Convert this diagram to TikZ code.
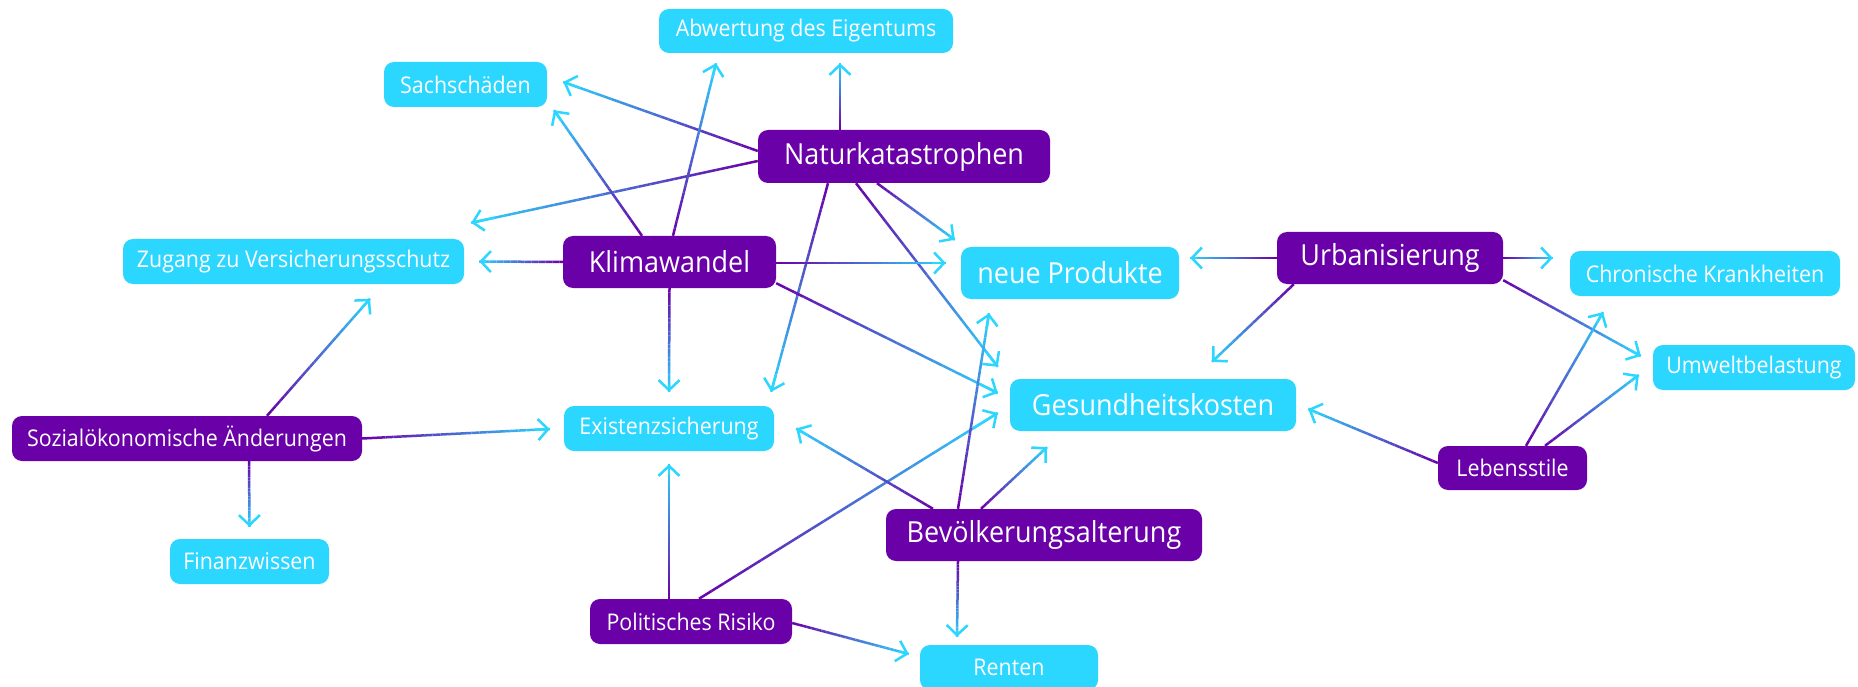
\documentclass[tikz,border=0pt]{standalone}
\usepackage{fontspec}
\setmainfont{Open Sans}[FakeStretch=0.93]
\usetikzlibrary{calc,arrows.meta,backgrounds}
\definecolor{leafc}{RGB}{43,214,255}
\definecolor{rootc}{RGB}{106,0,168}
\tikzset{
  box/.style={rounded corners=10pt, text=white, inner sep=0pt, align=center},
  dims/.style 2 args={minimum width=#1, minimum height=#2},
  smallfont/.style={font=\fontsize{23}{26}\selectfont},
  bigfont/.style={font=\fontsize{29}{33}\selectfont},
  leaf/.style={box, fill=leafc, smallfont},
  leafbig/.style={box, fill=leafc, bigfont},
  root/.style={box, fill=rootc, bigfont},
  rootsmall/.style={box, fill=rootc, smallfont},
  wire/.style={line width=2.5pt},
  tip/.style={wire, draw=leafc, -{Straight Barb[length=10pt, width=21pt]}},
}
% a connector whose colour runs from the purple source to the cyan target
\newcommand\linkline[2]{%
  \coordinate (ls) at #1;
  \coordinate (lt) at #2;
  \foreach \k in {0,...,23}{%
    \pgfmathsetmacro\ta{\k/24}%
    \pgfmathsetmacro\tb{(\k+1)/24}%
    \pgfmathtruncatemacro\tc{100*(\k+0.5)/24}%
    \draw[wire, draw=leafc!\tc!rootc] ($(ls)!\ta!(lt)$) -- ($(ls)!\tb!(lt)$);
  }%
  \draw[tip] ($(ls)!0.92!(lt)$) -- (lt);
}
\begin{document}
\begin{tikzpicture}[x=1pt, y=-1pt]
\useasboundingbox (0,0) rectangle (1858,687);

% causes
\node[root, dims={292pt}{53pt}] (nat) at (904,156.5) {Naturkatastrophen};
\node[root, dims={213pt}{52pt}] (klima) at (669.5,262) {Klimawandel};
\node[root, dims={226pt}{52pt}] (urban) at (1390,258) {Urbanisierung};
\node[root, dims={316pt}{52pt}] (bev) at (1044,535) {Bevölkerungsalterung};
\node[rootsmall, dims={350pt}{45pt}] (sozial) at (187,438.5) {Sozialökonomische Änderungen};
\node[rootsmall, dims={149pt}{44pt}] (leben) at (1512.5,468) {Lebensstile};
\node[rootsmall, dims={202pt}{45pt}] (polit) at (691,621.5) {Politisches Risiko};

% consequences
\node[leaf, dims={294pt}{44pt}] (abw) at (806,31) {Abwertung des Eigentums};
\node[leaf, dims={163pt}{45pt}] (sach) at (465.5,84.5) {Sachschäden};
\node[leaf, dims={341pt}{45pt}] (zug) at (293.5,261.5) {Zugang zu Versicherungsschutz};
\node[leafbig, dims={218pt}{52pt}] (neue) at (1070,273) {neue Produkte};
\node[leaf, dims={270pt}{45pt}] (chron) at (1705,273.5) {Chronische Krankheiten};
\node[leaf, dims={202pt}{45pt}] (umwelt) at (1754,367.5) {Umweltbelastung};
\node[leafbig, dims={286pt}{52pt}] (gesund) at (1153,405) {Gesundheitskosten};
\node[leaf, dims={210pt}{45pt}] (exist) at (669,428.5) {Existenzsicherung};
\node[leaf, dims={159pt}{45pt}] (finanz) at (249.5,561.5) {Finanzwissen};
\node[leaf, dims={178pt}{45pt}] (renten) at (1009,667.5) {Renten};

\begin{scope}[on background layer]
\fill[white] (0,0) rectangle (1858,687);
% Naturkatastrophen
\linkline{($(nat.north)+(-64,0)$)}{($(abw.south)+(34,10)$)}
\linkline{($(nat.west)+(0,-5.5)$)}{($(sach.east)+(16,-2.5)$)}
\linkline{($(nat.west)+(0,4.5)$)}{($(zug.north east)+(7,-16)$)}
\linkline{($(nat.south)+(-27,0)$)}{($(neue.north west)+(-6,-7)$)}
\linkline{($(nat.south)+(-76,0)$)}{($(exist.north east)+(-3,-14)$)}
\linkline{($(nat.south)+(-48,0)$)}{($(gesund.north west)+(-12,-12)$)}
% Klimawandel
\linkline{($(klima.north)+(3.5,0)$)}{($(abw.south)+(-90,10)$)}
\linkline{($(klima.north)+(-27.5,0)$)}{($(sach.south)+(88.5,3)$)}
\linkline{(klima.west)}{($(zug.east)+(15,0)$)}
\linkline{($(klima.east)+(0,1)$)}{($(neue.west)+(-15,-10)$)}
\linkline{($(klima.south east)+(0,-5)$)}{($(gesund.west)+(-12,-12)$)}
\linkline{(klima.south)}{($(exist.north)+(0,-14)$)}
% Sozialoekonomische Aenderungen
\linkline{($(sozial.north)+(80,0)$)}{($(zug.south)+(76.5,14.5)$)}
\linkline{(sozial.east)}{($(exist.west)+(-14,0.5)$)}
\linkline{($(sozial.south)+(62,0)$)}{($(finanz.north)+(0,-12)$)}
% Politisches Risiko
\linkline{($(polit.north)+(-22,0)$)}{($(exist.south)+(0,13)$)}
\linkline{($(polit.north)+(8,0)$)}{($(gesund.west)+(-12,8)$)}
\linkline{($(polit.east)+(0,1.5)$)}{($(renten.west)+(-11,-13.5)$)}
% Bevoelkerungsalterung
\linkline{($(bev.south)+(-86,0)$)}{($(renten.north)+(-52,-8)$)}
\linkline{($(bev.north)+(-111,0)$)}{($(exist.east)+(22,0)$)}
\linkline{($(bev.north)+(-86,0)$)}{($(neue.south)+(-81,14)$)}
\linkline{($(bev.north)+(-63,0)$)}{($(gesund.south)+(-106,16)$)}
% Urbanisierung
\linkline{(urban.west)}{($(neue.east)+(11,-15)$)}
\linkline{(urban.east)}{($(chron.west)+(-17,-15.5)$)}
\linkline{($(urban.south west)+(17,0)$)}{($(gesund.north)+(59,-17)$)}
\linkline{($(urban.south east)+(0,-4)$)}{($(umwelt.west)+(-12,-11.5)$)}
% Lebensstile
\linkline{($(leben.north)+(13.5,0)$)}{($(chron.south)+(-102,16)$)}
\linkline{($(leben.north)+(32.5,0)$)}{($(umwelt.west)+(-14,7.5)$)}
\linkline{($(leben.west)+(0,-5)$)}{($(gesund.east)+(12,4)$)}
\end{scope}
\end{tikzpicture}
\end{document}
